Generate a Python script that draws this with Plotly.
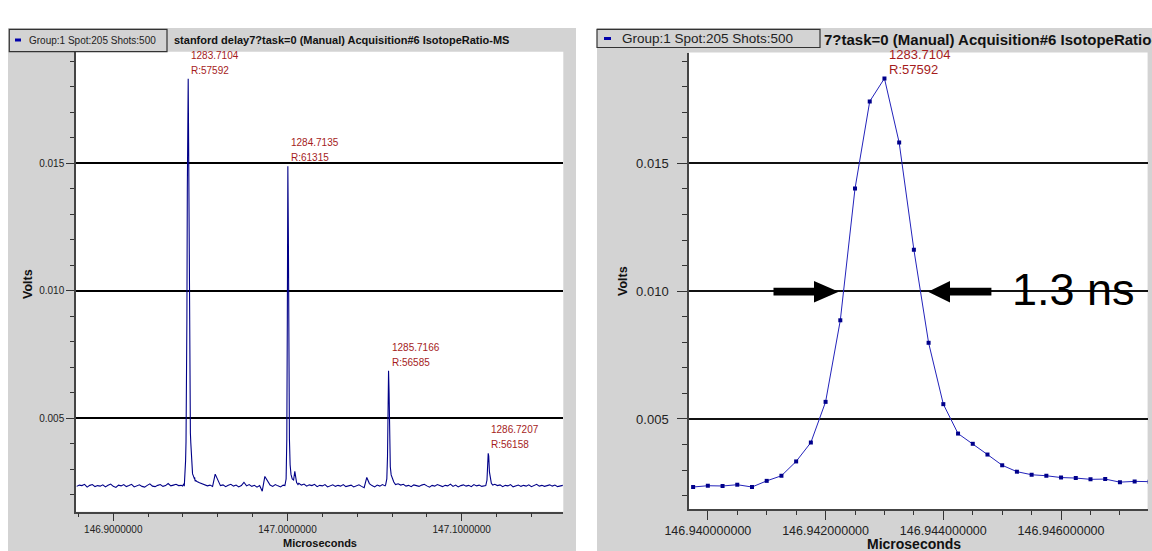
import numpy as np
import plotly.graph_objects as go

W, H = 1152, 551
FONT = "Arial, 'Liberation Sans', sans-serif"
GRAY = "#d3d3d3"
RED = "#a51c1c"

# ---------------- data ----------------
# zoomed peak (right panel), microseconds / volts
zoom_t = [146.93975, 146.94000, 146.94025, 146.94050, 146.94075, 146.94100, 146.94125, 146.94150,
          146.94175, 146.94200, 146.94225, 146.94250, 146.94275, 146.94300, 146.94325, 146.94350,
          146.94375, 146.94400, 146.94425, 146.94450, 146.94475, 146.94500, 146.94525, 146.94550,
          146.94575, 146.94600, 146.94625, 146.94650, 146.94675, 146.94700, 146.94725, 146.94750]
zoom_v = [0.00234, 0.00239, 0.00238, 0.00243, 0.00234, 0.00258, 0.00278, 0.00334,
          0.00408, 0.00567, 0.00886, 0.01401, 0.01742, 0.01832, 0.01581, 0.01162,
          0.00798, 0.00558, 0.00443, 0.00403, 0.00361, 0.00319, 0.00294, 0.00282,
          0.00278, 0.00271, 0.00269, 0.00264, 0.00265, 0.00253, 0.00256, 0.00255]

# baseline of the wide spectrum (left panel), sampled every base_dt from base_t0
base_t0 = 146.8790
base_dt = 0.0015
base_v = [0.00233, 0.00238, 0.00236, 0.00241, 0.00230, 0.00237, 0.00240, 0.00232, 0.00236, 0.00234,
          0.00239, 0.00231, 0.00237, 0.00242, 0.00233, 0.00229, 0.00238, 0.00235, 0.00240, 0.00232,
          0.00236, 0.00241, 0.00231, 0.00235, 0.00239, 0.00233, 0.00230, 0.00237, 0.00243, 0.00234,
          0.00232, 0.00237, 0.00240, 0.00233, 0.00236, 0.00244, 0.00235, 0.00238, 0.00241, 0.00236,
          0.00237, 0.00240, 0.00240, 0.00240, 0.00240, 0.00240, 0.00252, 0.00247, 0.00243, 0.00240,
          0.00235, 0.00238, 0.00233, 0.00281, 0.00259, 0.00236, 0.00239, 0.00232, 0.00237, 0.00241,
          0.00234, 0.00238, 0.00231, 0.00236, 0.00249, 0.00235, 0.00240, 0.00233, 0.00237, 0.00230,
          0.00236, 0.00214, 0.00272, 0.00257, 0.00238, 0.00233, 0.00240, 0.00235, 0.00231, 0.00238,
          0.00240, 0.00240, 0.00240, 0.00240, 0.00240, 0.00245, 0.00238, 0.00242, 0.00234, 0.00239,
          0.00236, 0.00241, 0.00232, 0.00237, 0.00235, 0.00240, 0.00231, 0.00236, 0.00239, 0.00233,
          0.00237, 0.00234, 0.00240, 0.00232, 0.00236, 0.00238, 0.00231, 0.00235, 0.00239, 0.00233,
          0.00228, 0.00268, 0.00244, 0.00236, 0.00231, 0.00238, 0.00234, 0.00240, 0.00235, 0.00240,
          0.00240, 0.00240, 0.00240, 0.00243, 0.00238, 0.00241, 0.00234, 0.00237, 0.00232, 0.00239,
          0.00236, 0.00233, 0.00238, 0.00241, 0.00235, 0.00230, 0.00237, 0.00234, 0.00240, 0.00236,
          0.00232, 0.00237, 0.00235, 0.00242, 0.00233, 0.00238, 0.00231, 0.00236, 0.00239, 0.00234,
          0.00237, 0.00232, 0.00240, 0.00235, 0.00238, 0.00233, 0.00236, 0.00240, 0.00240, 0.00240,
          0.00241, 0.00236, 0.00239, 0.00232, 0.00237, 0.00235, 0.00240, 0.00231, 0.00236, 0.00238,
          0.00233, 0.00237, 0.00234, 0.00239, 0.00232, 0.00236, 0.00241, 0.00234, 0.00237, 0.00233,
          0.00236, 0.00239, 0.00234, 0.00238, 0.00232, 0.00235, 0.00237]

peak2_t = [146.9985, 146.9992, 146.9996, 146.9999, 147.0002, 147.0005, 147.0008, 147.0011,
           147.0015, 147.0020, 147.0027, 147.0035, 147.0042, 147.0046, 147.0052, 147.0060]
peak2_v = [0.00236, 0.00262, 0.00420, 0.00890, 0.01488, 0.01210, 0.00720, 0.00420,
           0.00318, 0.00280, 0.00262, 0.00258, 0.00292, 0.00270, 0.00248, 0.00240]

peak3_t = [147.0563, 147.0570, 147.0574, 147.0577, 147.0580, 147.0583, 147.0586, 147.0590,
           147.0595, 147.0602, 147.0610, 147.0620]
peak3_v = [0.00238, 0.00262, 0.00350, 0.00560, 0.00686, 0.00600, 0.00420, 0.00310,
           0.00278, 0.00265, 0.00250, 0.00240]

peak4_t = [147.1138, 147.1145, 147.1149, 147.1152, 147.1155, 147.1159, 147.1164, 147.1170, 147.1178]
peak4_v = [0.00236, 0.00258, 0.00320, 0.00363, 0.00352, 0.00290, 0.00258, 0.00245, 0.00238]

peak_mass = ["1283.7104", "1284.7135", "1285.7166", "1286.7207"]
peak_res = ["R:57592", "R:61315", "R:56585", "R:56158"]

legend_text = "Group:1 Spot:205 Shots:500"
title_left = "stanford delay7?task=0 (Manual) Acquisition#6 IsotopeRatio-MS"
title_right = "7?task=0 (Manual) Acquisition#6 IsotopeRatio-MS"
fwhm_text = "1.3 ns"

# ---------------- build wide spectrum ----------------
segments = [(zoom_t, zoom_v), (peak2_t, peak2_v), (peak3_t, peak3_v), (peak4_t, peak4_v)]
base_t = base_t0 + base_dt * np.arange(len(base_v))
base_arr = np.array(base_v)
keep = np.ones(len(base_t), bool)
for st, sv in segments:
    keep &= ~((base_t >= min(st) - 1e-9) & (base_t <= max(st) + 1e-9))
lt = np.concatenate([base_t[keep]] + [np.array(s[0]) for s in segments])
lv = np.concatenate([base_arr[keep]] + [np.array(s[1]) for s in segments])
order = np.argsort(lt)
lt, lv = lt[order], lv[order]


def px(x):
    return x / W


def py(y):
    return 1 - y / H


fig = go.Figure()
fig.add_trace(go.Scatter(x=lt, y=lv, mode="lines", line=dict(color="#000088", width=1.1),
                         xaxis="x", yaxis="y", showlegend=False, hoverinfo="skip"))
fig.add_trace(go.Scatter(x=zoom_t, y=zoom_v, mode="lines+markers",
                         line=dict(color="#2323bb", width=1),
                         marker=dict(symbol="square", size=4, color="#00008b"),
                         xaxis="x2", yaxis="y2", showlegend=False, hoverinfo="skip"))


def xax(domain, rng, tick0, dtick, fmt, mtick, fs, tl):
    return dict(domain=domain, range=rng, tick0=tick0, dtick=dtick, tickformat=fmt,
                ticks="outside", ticklen=tl, tickwidth=1, tickcolor="#333",
                showline=True, linecolor="#444", linewidth=1.5, showgrid=False, zeroline=False,
                tickfont=dict(family=FONT, size=fs, color="#222"), automargin=False,
                minor=dict(tick0=tick0, dtick=mtick, ticklen=tl // 2, ticks="outside",
                           tickcolor="#333", showgrid=False),
                fixedrange=True)


def yax(domain, rng, fs, tl, gw, gc, so):
    return dict(domain=domain, range=rng, tick0=0, dtick=0.005, tickformat=".3f",
                ticks="outside", ticklen=tl, tickwidth=1, tickcolor="#333",
                showline=True, linecolor="#444", linewidth=1.5, showgrid=True,
                gridcolor=gc, gridwidth=gw, zeroline=False, automargin=False,
                ticklabelstandoff=so,
                tickfont=dict(family=FONT, size=fs, color="#222"),
                minor=dict(tick0=0, dtick=0.001, ticklen=tl // 2, ticks="outside",
                           tickcolor="#333", showgrid=False),
                fixedrange=True)


L = dict(x0=76, x1=563.3, y0=51.7, y1=511.7)
R = dict(x0=689, x1=1147.6, y0=52.5, y1=509)

fig.update_layout(
    width=W, height=H, margin=dict(l=0, r=0, t=0, b=0, pad=0, autoexpand=False),
    paper_bgcolor="white", plot_bgcolor="white", showlegend=False,
    xaxis=dict(**xax([px(L["x0"]), px(L["x1"])], [146.8786, 147.1583], 146.9, 0.1, ".7f", 0.02, 10, 8), anchor="y"),
    yaxis=dict(**yax([py(L["y1"]), py(L["y0"])], [0.001337, 0.019376], 10, 8, 2, "#000", 0), anchor="x"),
    xaxis2=dict(**xax([px(R["x0"]), px(R["x1"])], [146.93968, 146.94747], 146.940, 0.002, ".9f", 0.0005, 12.5, 9), anchor="y2"),
    yaxis2=dict(**yax([py(R["y1"]), py(R["y0"])], [0.00148, 0.019333], 13, 10, 1.6, "#111", 6), anchor="x2"),
)

shapes = []
# gray panels
for x0, x1 in [(8, 576), (597, 1152)]:
    shapes.append(dict(type="rect", xref="paper", yref="paper", x0=px(x0), x1=px(x1), y0=py(551), y1=py(28),
                       fillcolor=GRAY, line=dict(width=0), layer="below"))
# white plot areas
for P in (L, R):
    shapes.append(dict(type="rect", xref="paper", yref="paper", x0=px(P["x0"]), x1=px(P["x1"]),
                       y0=py(P["y1"]), y1=py(P["y0"]), fillcolor="white", line=dict(width=0), layer="below"))
# legend boxes + markers
for (bx0, bx1, by0, by1, mx0, mx1, my0, my1) in [(9.3, 167, 29.3, 51.7, 15, 21, 38.5, 41.5),
                                                 (597, 820, 29.3, 47.5, 604, 611, 37, 40)]:
    shapes.append(dict(type="rect", xref="paper", yref="paper", x0=px(bx0), x1=px(bx1), y0=py(by1), y1=py(by0),
                       fillcolor=GRAY, line=dict(width=1.2, color="#333")))
    shapes.append(dict(type="rect", xref="paper", yref="paper", x0=px(mx0), x1=px(mx1), y0=py(my1), y1=py(my0),
                       fillcolor="#0000aa", line=dict(width=0)))


def arrow_path(pts):
    return "M " + " L ".join(f"{px(a):.5f},{py(b):.5f}" for a, b in pts) + " Z"


left_arrow = [(773.5, 287.8), (814, 287.8), (814, 281), (838.7, 291.7), (814, 302.4), (814, 295.6), (773.5, 295.6)]
right_arrow = [(991.4, 287.8), (950, 287.8), (950, 281), (928, 291.7), (950, 302.4), (950, 295.6), (991.4, 295.6)]
for pts in (left_arrow, right_arrow):
    shapes.append(dict(type="path", xref="paper", yref="paper", path=arrow_path(pts),
                       fillcolor="black", line=dict(width=0), layer="above"))
fig.update_layout(shapes=shapes)

ann = []
# titles
ann.append(dict(x=px(172), y=py(40), xref="paper", yref="paper", xanchor="left", yanchor="middle",
                text=f"<b>{title_left}</b>", showarrow=False, font=dict(family=FONT, size=11, color="#111")))
ann.append(dict(x=px(822), y=py(39), xref="paper", yref="paper", xanchor="left", yanchor="middle",
                text=f"<b>{title_right}</b>", showarrow=False, font=dict(family=FONT, size=15, color="#111")))
# legend texts
ann.append(dict(x=px(26.5), y=py(40.5), xref="paper", yref="paper", xanchor="left", yanchor="middle",
                text=legend_text, showarrow=False, font=dict(family=FONT, size=10, color="#222")))
ann.append(dict(x=px(620), y=py(38.5), xref="paper", yref="paper", xanchor="left", yanchor="middle",
                text=legend_text, showarrow=False, font=dict(family=FONT, size=13.5, color="#222")))
# axis titles
for (x, y, s) in [(320, 543, 11), (914, 543.5, 14)]:
    ann.append(dict(x=px(x), y=py(y), xref="paper", yref="paper", xanchor="center", yanchor="middle",
                    text="<b>Microseconds</b>", showarrow=False, font=dict(family=FONT, size=s, color="#111")))
for (x, y, s) in [(28, 284, 12.5), (623, 281, 12.5)]:
    ann.append(dict(x=px(x), y=py(y), xref="paper", yref="paper", xanchor="center", yanchor="middle",
                    text="<b>Volts</b>", textangle=-90, showarrow=False, font=dict(family=FONT, size=s, color="#111")))
# peak labels (left)
for (st, sv), m, r in zip(segments, peak_mass, peak_res):
    k = int(np.argmax(sv))
    for txt, sh in ((m, 23.5), (r, 8.5)):
        ann.append(dict(x=st[k], y=sv[k], xref="x", yref="y", xanchor="left", yanchor="middle",
                        xshift=1, yshift=sh, text=txt, showarrow=False,
                        font=dict(family=FONT, size=10, color=RED)))
# peak label (right)
k = int(np.argmax(zoom_v))
for txt, sh in ((peak_mass[0], 23.5), (peak_res[0], 8.5)):
    ann.append(dict(x=zoom_t[k], y=zoom_v[k], xref="x2", yref="y2", xanchor="left", yanchor="middle",
                    xshift=2.5, yshift=sh, text=txt, showarrow=False,
                    font=dict(family=FONT, size=13, color=RED)))
# FWHM text
ann.append(dict(x=px(1073), y=py(289), xref="paper", yref="paper", xanchor="center", yanchor="middle",
                text=fwhm_text, showarrow=False, font=dict(family=FONT, size=45, color="black")))
fig.update_layout(annotations=ann)

fig.write_html("out.html", config={"displayModeBar": False},
               post_script="document.body.style.margin='0';document.body.style.overflow='hidden';")
